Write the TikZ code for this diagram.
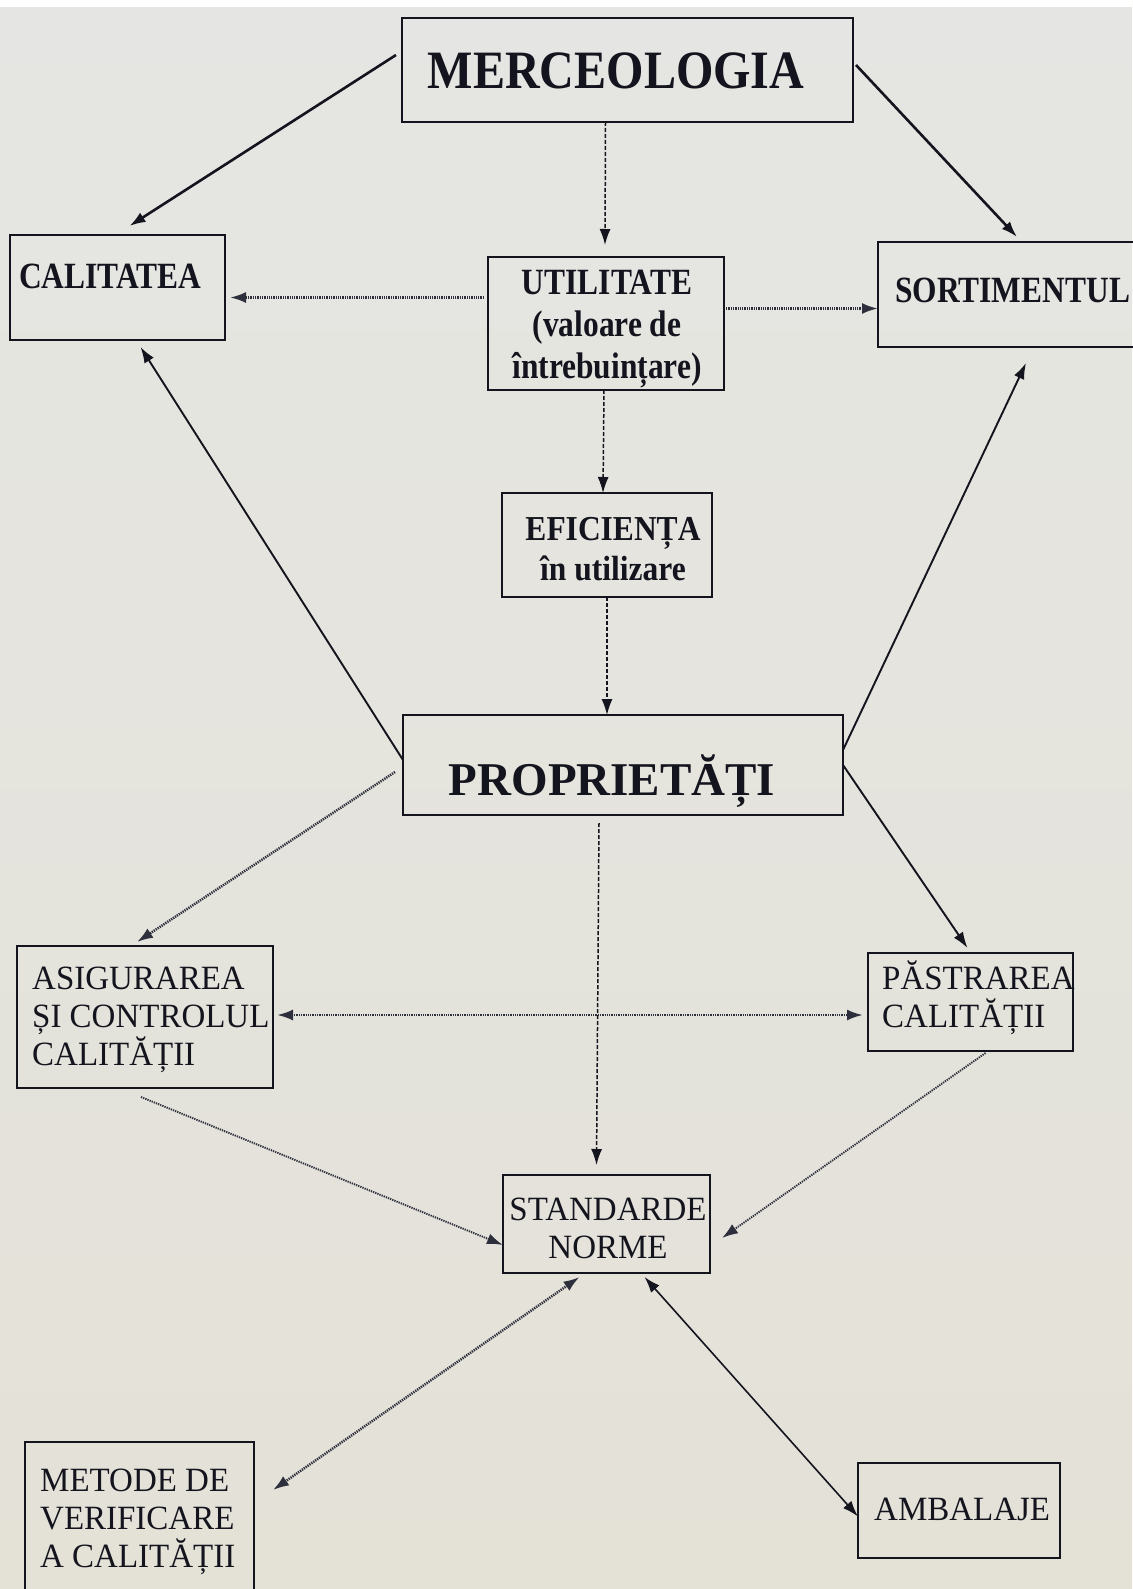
\documentclass[tikz,border=0pt]{standalone}
\usepackage{fontspec}
\setmainfont{Liberation Serif}
\usetikzlibrary{arrows.meta}
\definecolor{papertop}{RGB}{229,230,227}
\definecolor{paperbot}{RGB}{228,225,215}
\definecolor{ink}{RGB}{20,20,30}
\definecolor{dotink}{RGB}{45,47,60}
\newcommand{\fnt}[3]{\fontsize{#1}{#2}\selectfont\addfontfeature{FakeStretch=#3}}
\newcommand{\bx}[5]{% name, left, top, right, bottom
	\node[box, anchor=north west, minimum width={(#4-#2)*1pt}, minimum height={(#5-#3)*1pt}] (#1) at (#2,#3) {};
	}

\begin{document}
\begin{tikzpicture}[
      x=1pt, y=-1pt, %pixel grid of the page
      box/.style={draw=ink, line width=2.3pt, inner sep=0pt, outer sep=0pt},
      head/.style={inner sep=0pt, text=ink, font=\bfseries\fnt{37}{42}{0.85}},
      body/.style={inner sep=0pt, text=ink, font=\fnt{34}{38}{0.97}},
      heavy/.style={draw=ink, line width=2.6pt, ->},
      plain/.style={draw=ink, line width=1.9pt, ->},
      dashline/.style={draw=ink, line width=1.5pt, dash pattern=on 4pt off 2pt, ->},
      dots/.style={draw=dotink, line width=2.5pt, dash pattern=on 1.3pt off 1pt, ->},
      >={Latex[length=16pt,width=11pt]}
    ]
    \useasboundingbox (0,0) rectangle (1132,1589);
    \shade[top color=papertop, bottom color=paperbot] (0,0) rectangle (1132,1589);
    \fill[white] (0,0) rectangle (1132,7);
    % Draw the boxes
    \bx{merc}{402}{18}{853}{122}
    \bx{cal}{10}{235}{225}{340}
    \bx{util}{488}{257}{724}{390}
    \bx{sort}{878}{242}{1150}{347}
    \bx{efic}{502}{493}{712}{597}
    \bx{prop}{403}{715}{843}{815}
    \bx{asig}{17}{946}{273}{1088}
    \bx{past}{868}{953}{1073}{1051}
    \bx{std}{503}{1175}{710}{1273}
    \bx{met}{25}{1442}{254}{1600}
    \bx{amb}{858}{1463}{1060}{1558}
    % Texts of the boxes
    \node[head, anchor=base, font=\bfseries\fnt{54}{60}{0.89}] (mercT) at (616,89) {MERCEOLOGIA};
    \node[head, anchor=base west] (calT) at (19,288) {CALITATEA};
    \node[head, anchor=north, align=center] (utilT) at (607,270) {UTILITATE\\(valoare de\\întrebuințare)};
    \node[head, anchor=base west] (sortT) at (895,302) {SORTIMENTUL};
    \node[head, anchor=north, align=center, font=\bfseries\fnt{35}{40}{0.9}] (eficT) at (613,517) {EFICIENȚA\\în utilizare};
    \node[head, anchor=base, font=\bfseries\fnt{47}{50}{1.0}] (propT) at (612,795) {PROPRIETĂȚI};
    \node[body, anchor=north west, align=left] (asigT) at (32,967) {ASIGURAREA\\ȘI CONTROLUL\\CALITĂȚII};
    \node[body, anchor=north west, align=left] (pastT) at (882,961) {PĂSTRAREA\\CALITĂȚII};
    \node[body, anchor=north, align=center] (stdT) at (608,1198) {STANDARDE\\NORME};
    \node[body, anchor=north west, align=left] (metT) at (40,1469) {METODE DE\\VERIFICARE\\A CALITĂȚII};
    \node[body, anchor=base west] (ambT) at (874,1520) {AMBALAJE};
    % Arrows from MERCEOLOGIA
    \draw[heavy] ([xshift=-6pt,yshift=15pt]merc.west) -- ([xshift=12pt,yshift=9pt]cal.north);
    \draw[heavy] ([xshift=3pt,yshift=5pt]merc.east) -- ([xshift=3pt,yshift=5pt]sort.north);
    \draw[dashline] ([xshift=-22pt]merc.south) -- ([xshift=-1pt,yshift=12pt]util.north);
    % Arrows from UTILITATE and EFICIENTA
    \draw[dots] ([xshift=-4pt,yshift=26pt]util.west) -- ([xshift=5pt,yshift=-10pt]cal.east);
    \draw[dots] ([xshift=2pt,yshift=15pt]util.east) -- ([yshift=-14pt]sort.west);
    \draw[dashline] ([xshift=-2pt]util.south) -- ([xshift=-4pt]efic.north);
    \draw[dashline] (efic.south) -- ([xshift=-16pt]prop.north);
    % Arrows from PROPRIETATI
    \draw[plain] ([yshift=5pt]prop.west) -- ([xshift=23pt,yshift=-7pt]cal.south);
    \draw[plain] ([yshift=15pt]prop.east) -- ([xshift=12pt,yshift=-16pt]sort.south);
    \draw[dots] ([xshift=-8pt,yshift=-7pt]prop.west) -- ([xshift=-8pt,yshift=4pt]asig.north);
    \draw[plain] (prop.east) -- ([xshift=-3pt,yshift=5pt]past.north);
    \draw[dashline] ([xshift=-24pt,yshift=-8pt]prop.south) -- ([xshift=-10pt,yshift=10pt]std.north);
    % Lower part
    \draw[dots, <->] ([xshift=4pt,yshift=2pt]asig.east) -- ([xshift=-5pt,yshift=-13pt]past.west);
    \draw[dots, line width=1.9pt] ([xshift=-4pt,yshift=-9pt]asig.south) -- ([yshift=-21pt]std.west);
    \draw[dots, line width=1.9pt] ([xshift=15pt,yshift=-2pt]past.south) -- ([xshift=12pt,yshift=-14pt]std.east);
    \draw[dots, <->] ([xshift=-27pt,yshift=-4pt]std.south) -- ([xshift=19pt,yshift=31pt]met.east);
    \draw[plain, line width=1.6pt, <->] ([xshift=38pt,yshift=-4pt]std.south) -- ([yshift=-6pt]amb.west);
\end{tikzpicture}
\end{document}
